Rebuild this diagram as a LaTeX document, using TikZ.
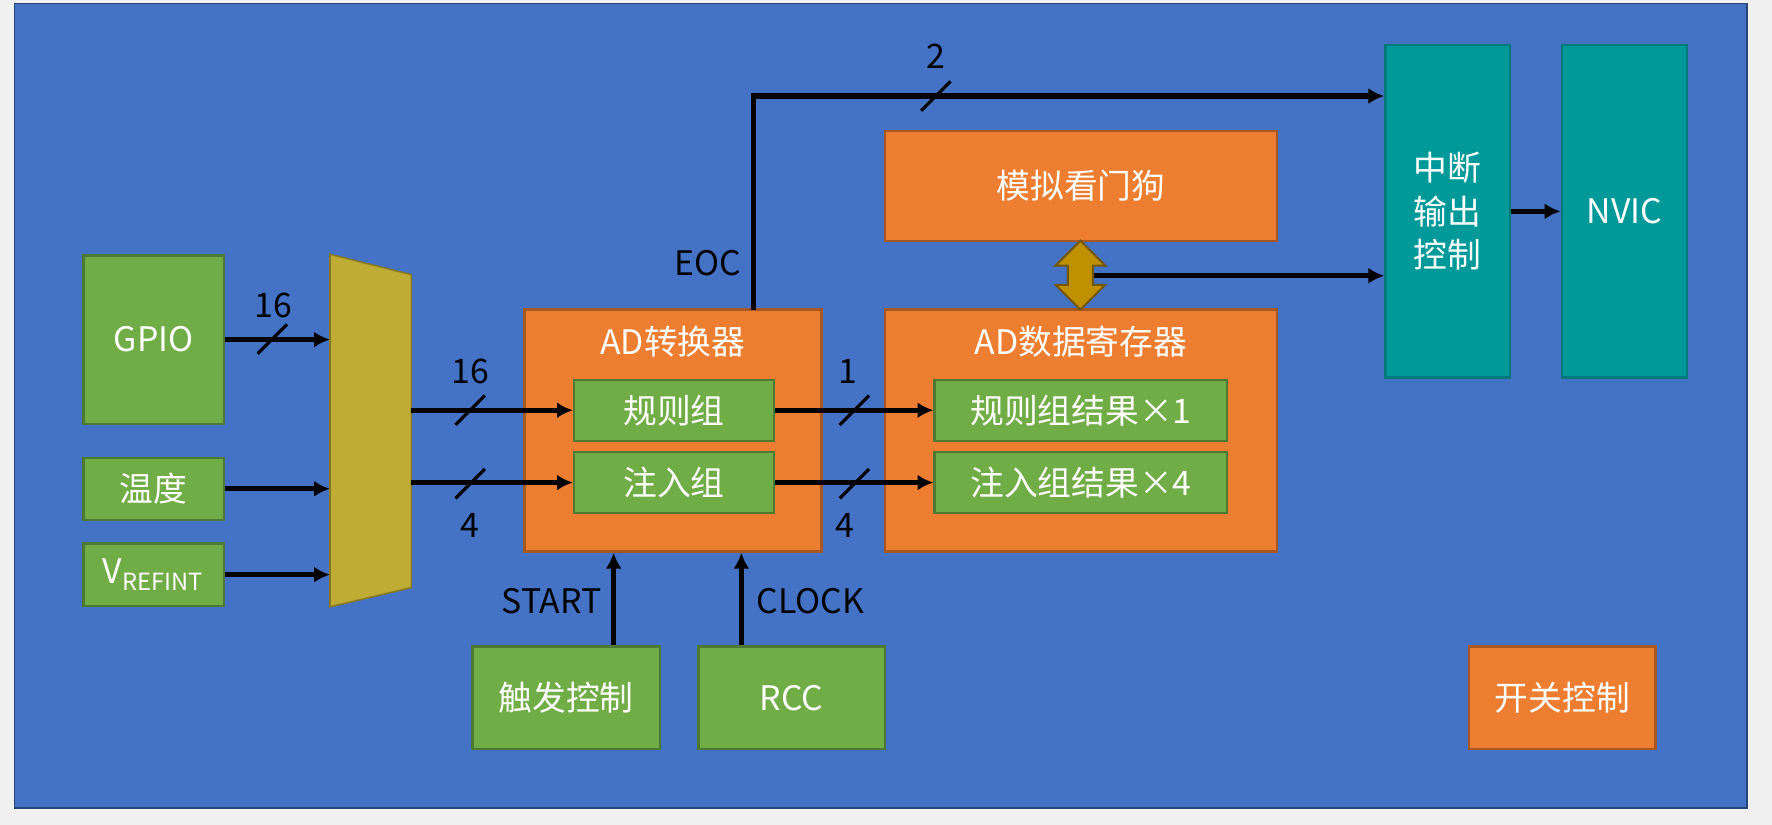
\documentclass[tikz,border=0pt]{standalone}
\usepackage{fontspec}
\setmainfont{Noto Sans CJK SC}
\usetikzlibrary{arrows.meta}
\definecolor{bgBlue}{HTML}{4472C4}
\definecolor{myGreen}{HTML}{70AD47}
\definecolor{myOrange}{HTML}{ED7D31}
\definecolor{myTeal}{HTML}{009999}
\definecolor{muxGold}{HTML}{BFAC35}
\definecolor{dogGold}{HTML}{BF9000}

\begin{document}
\begin{tikzpicture}[x=0.01cm,y=-0.01cm,>={Latex[length=4pt,width=4pt]},
  font=\fontsize{8.5}{10}\selectfont]
\tikzset{
  box/.style={draw,inner sep=0pt,text=white,line width=.6pt},
  sz/.style 2 args={minimum width=#1*0.01cm,minimum height=#2*0.01cm},
  gbox/.style={box,fill=myGreen,draw=myGreen!70!black},
  obox/.style={box,fill=myOrange,draw=myOrange!70!black},
  tbox/.style={box,fill=myTeal,draw=myTeal!80!black},
  sig/.style={->,line width=1.3pt},
  slash/.style={line width=.8pt},
  lbl/.style={inner sep=1pt}
}
% background
\fill[gray!12] (0,0) rectangle (1568,730);
\draw[fill=bgBlue,draw=bgBlue!60!black] (13,3) rectangle (1546,715);

% inputs
\node[gbox,sz={124}{149}] (gpio) at (136,300.5) {GPIO};
\node[gbox,sz={124}{55}] (temp) at (136,432.5) {温度};
\node[gbox,sz={124}{55}] (vref) at (136,508.5) {V\textsubscript{REFINT}};

% multiplexer
\draw[fill=muxGold,draw=muxGold!70!black] (292,225) -- (364,243) -- (364,520) -- (292,537) -- cycle;
\coordinate (muxL) at (292,381);
\coordinate (muxR) at (364,381);

% converter and registers
\node[obox,sz={263}{214}] (adc) at (595.5,381) {};
\node[lbl,text=white] (adct) at (595.5,302) {AD转换器};
\node[gbox,sz={177}{54}] (reg) at (596.5,363) {规则组};
\node[gbox,sz={177}{54}] (inj) at (596.5,427) {注入组};
\node[obox,sz={347}{214}] (dr) at (956.5,381) {};
\node[lbl,text=white] (drt) at (956.5,302) {AD数据寄存器};
\node[gbox,sz={259}{54}] (regr) at (956.5,363) {规则组结果×1};
\node[gbox,sz={259}{54}] (injr) at (956.5,427) {注入组结果×4};
\node[obox,sz={347}{97}] (wdg) at (956.5,164.5) {模拟看门狗};

% interrupt side
\node[tbox,sz={110}{294},align=center] (itc) at (1281,187) {中断\\[1pt]输出\\[1pt]控制};
\node[tbox,sz={111}{294}] (nvic) at (1437.5,187) {NVIC};

% bottom blocks
\node[gbox,sz={166}{91}] (trig) at (501,617.5) {触发控制};
\node[gbox,sz={165}{91}] (rcc) at (700.5,617.5) {RCC};
\node[obox,sz={165}{91}] (sw) at (1382.5,617.5) {开关控制};

% connectors
\draw[sig] (gpio.east) -- (gpio.east -| muxL);
\draw[sig] (temp.east) -- (temp.east -| muxL);
\draw[sig] (vref.east) -- (vref.east -| muxL);
\draw[sig] (reg.west -| muxR) -- (reg.west);
\draw[sig] (inj.west -| muxR) -- (inj.west);
\draw[sig] (reg.east) -- (regr.west);
\draw[sig] (inj.east) -- (injr.west);
\coordinate (eocS) at (667,274);
\coordinate (eocC) at (667,85);
\draw[sig] (eocS) -- (eocC) -- (eocC -| itc.west);
\draw[sig] (itc.east |- nvic) -- (nvic.west);
\draw[sig] (trig.north -| 543,0) -- (adc.south -| 543,0);
\draw[sig] (rcc.north -| 656,0) -- (adc.south -| 656,0);
\coordinate (dogR) at (968,244);
\draw[sig] (dogR) -- (dogR -| itc.west);

% double arrow between watchdog and register
\draw[fill=dogGold,draw=dogGold!60!black,line width=.5pt]
  (956,213) -- (978,235) -- (967,235) -- (967,252) -- (978,252) -- (956,274)
  -- (934,252) -- (945,252) -- (945,235) -- (934,235) -- cycle;

% bus slashes
\foreach \sx/\sy in {241/300,416/363,416/428,756/363,756/428,828/85}
  \draw[slash] (\sx,\sy) +(-13,13) -- +(13,-13);

% labels
\node[lbl] (l16a) at (242,270) {16};
\node[lbl] (l16b) at (416,329) {16};
\node[lbl] (l4a) at (416,465) {4};
\node[lbl] (l1) at (750,329) {1};
\node[lbl] (l4b) at (748,465) {4};
\node[lbl] (l2) at (828,50) {2};
\node[lbl] (leoc) at (626,233) {EOC};
\node[lbl] (lstart) at (488,532) {START};
\node[lbl] (lclock) at (717,532) {CLOCK};
\end{tikzpicture}
\end{document}
